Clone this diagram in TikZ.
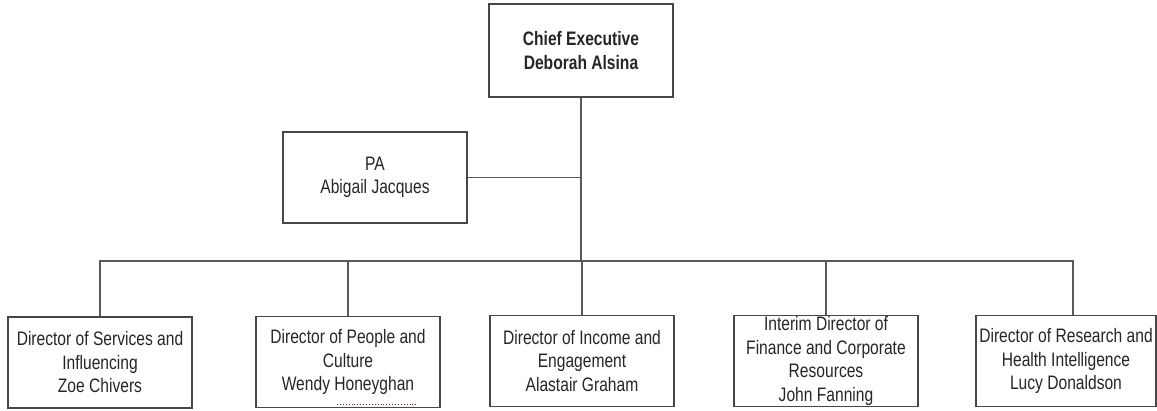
\documentclass[tikz,border=0pt]{standalone}
\usepackage{fontspec}
\setmainfont{Liberation Sans}[FakeStretch=0.8]
\begin{document}
\begin{tikzpicture}[x=1pt,y=-1pt,
  box/.style={draw=black!72,line width=1.3pt,fill=white,inner sep=0pt,
    minimum width=184pt,minimum height=91pt,align=center,
    font=\fontsize{19.5}{23.5}\selectfont,text=black!85},
  link/.style={draw=black!65,line width=1.1pt}]
\useasboundingbox (0,0) rectangle (1157,410);
\fill[white] (0,0) rectangle (1157,410);
\node[box,minimum height=93pt] (ceo) at (581,50.5) {\bfseries Chief Executive\\\bfseries Deborah Alsina};
\node[box,minimum height=91pt] (pa) at (375,177.5) {PA\\Abigail Jacques};
\node[box] (d1) at (100,362.5) {Director of Services and\\Influencing\\Zoe Chivers};
\node[box] (d2) at (348,362) {Director of People and\\Culture\\Wendy Honeyghan};
\node[box] (d3) at (582,361) {Director of Income and\\Engagement\\Alastair Graham};
\node[box] (d4) at (826,361) {Interim Director of\\Finance and Corporate\\Resources\\John Fanning};
\node[box,minimum width=180pt] (d5) at (1066,361) {Director of Research and\\Health Intelligence\\Lucy Donaldson};
\coordinate (bus) at (582,261);
\path[link] (ceo.south) -- (ceo.south |- bus);
\path[link] (pa.east) -- (pa.east -| ceo.south);
\path[link] (d1.north) |- (bus);
\path[link] (d2.north) |- (bus);
\path[link] (d3.north) -- (bus);
\path[link] (d4.north) |- (bus);
\path[link] ([xshift=7pt]d5.north) |- (bus);
\draw[red!80!black,line width=0.9pt,dotted] (337,404) -- (417,404);
\end{tikzpicture}
\end{document}
